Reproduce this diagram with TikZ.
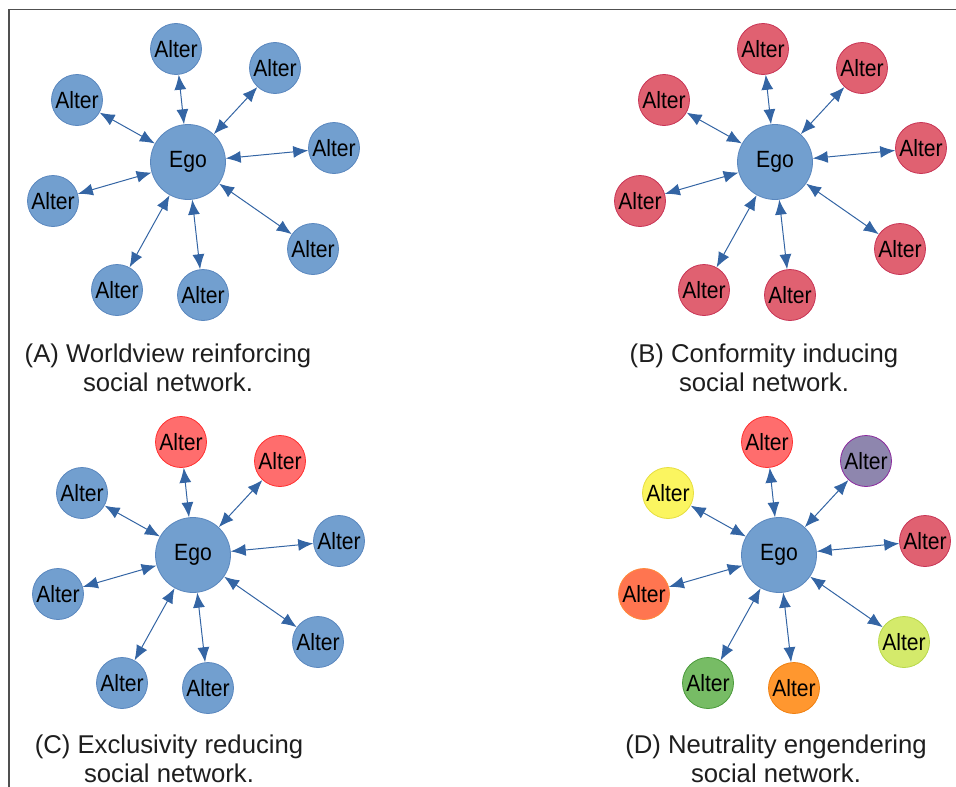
\documentclass[tikz,border=0pt]{standalone}
\usepackage{fontspec}
\setmainfont{Liberation Sans}
\newfontfamily\nodefont[FakeStretch=0.9]{Liberation Sans}
\usetikzlibrary{arrows.meta}
\definecolor{egoblue}{HTML}{729FCF}
\definecolor{egoline}{HTML}{5A87BE}
\definecolor{linkblue}{HTML}{3465A4}
\definecolor{pinkred}{HTML}{E06171}
\definecolor{pinkline}{HTML}{C83455}
\definecolor{lred}{HTML}{FF6D6D}
\definecolor{lredline}{HTML}{FF3030}
\definecolor{lpurple}{HTML}{8E86AE}
\definecolor{lpurpleline}{HTML}{8B2A9E}
\definecolor{lyellow}{HTML}{FBF560}
\definecolor{lyellowline}{HTML}{E6DE40}
\definecolor{lbrick}{HTML}{FF7550}
\definecolor{lbrickline}{HTML}{FF8A3A}
\definecolor{llime}{HTML}{D4EA6B}
\definecolor{llimeline}{HTML}{B8D84A}
\definecolor{lgreen}{HTML}{77BC65}
\definecolor{lgreenline}{HTML}{4A9A3A}
\definecolor{lorange}{HTML}{FF972F}
\definecolor{lorangeline}{HTML}{F08010}
\definecolor{framegray}{HTML}{505050}
\definecolor{captext}{HTML}{1E1E1E}

\newcommand{\egonet}[3]{%
  \begin{scope}[shift={#2}]
    \node[ego] (#1e) at (188,162) {Ego};
    \foreach \fc/\dc [count=\k] in {#3} {
      \pgfmathsetmacro\px{{176,275,77,334,53,313,117,203}[\k-1]}
      \pgfmathsetmacro\py{{49,68,100,148,201,249,290,295}[\k-1]}
      \node[alter, fill=\fc, draw=\dc] (#1\k) at (\px,\py) {Alter};
      \draw[link] (#1e) -- (#1\k);
    }
  \end{scope}
}

\begin{document}
\begin{tikzpicture}[x=1pt,y=-1pt,
  ego/.style={circle, minimum size=75pt, inner sep=0pt, fill=egoblue, draw=egoline,
    line width=0.8pt, font=\nodefont\fontsize{23.5}{26}\selectfont, text=black},
  alter/.style={circle, minimum size=51pt, inner sep=0pt, line width=0.8pt,
    font=\nodefont\fontsize{23.5}{26}\selectfont, text=black},
  link/.style={draw=linkblue, line width=1pt,
    {Latex[length=15pt,width=12pt]}-{Latex[length=15pt,width=12pt]}},
  caption/.style={align=center, font=\fontsize{25.7}{29}\selectfont, text=captext},
  frame/.style={draw=framegray, line width=1.4pt}]

\useasboundingbox (0,0) rectangle (956,787);
\draw[frame] (9,787) -- (9,9.5) -- (956,9.5);

\egonet{A}{(0,0)}{egoblue/egoline,egoblue/egoline,egoblue/egoline,egoblue/egoline,egoblue/egoline,egoblue/egoline,egoblue/egoline,egoblue/egoline}
\egonet{B}{(587,0)}{pinkred/pinkline,pinkred/pinkline,pinkred/pinkline,pinkred/pinkline,pinkred/pinkline,pinkred/pinkline,pinkred/pinkline,pinkred/pinkline}
\egonet{C}{(5,393)}{lred/lredline,lred/lredline,egoblue/egoline,egoblue/egoline,egoblue/egoline,egoblue/egoline,egoblue/egoline,egoblue/egoline}
\egonet{D}{(591,393)}{lred/lredline,lpurple/lpurpleline,lyellow/lyellowline,pinkred/pinkline,lbrick/lbrickline,llime/llimeline,lgreen/lgreenline,lorange/lorangeline}

\node[caption] (capA) at (168,367.5) {(A) Worldview reinforcing\\social network.};
\node[caption] (capB) at (764,367.5) {(B) Conformity inducing\\social network.};
\node[caption] (capC) at (169,759) {(C) Exclusivity reducing\\social network.};
\node[caption] (capD) at (776,759) {(D) Neutrality engendering\\social network.};
\end{tikzpicture}
\end{document}
